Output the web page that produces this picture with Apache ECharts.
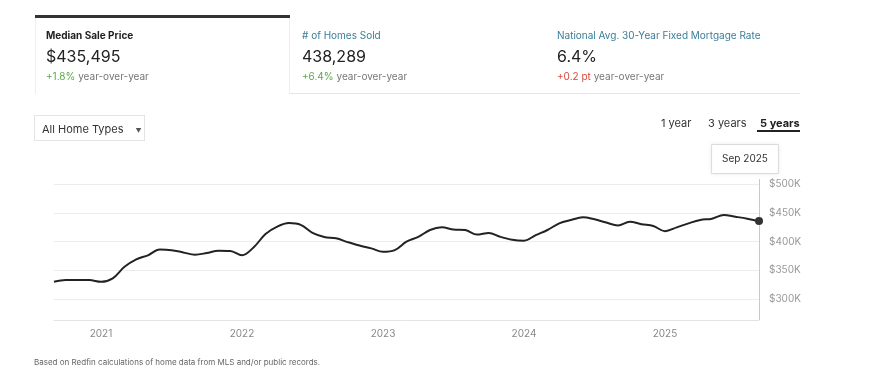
<!DOCTYPE html>
<html>
<head>
<meta charset="utf-8">
<script src="https://cdn.jsdelivr.net/npm/echarts@6/dist/echarts.min.js"></script>
<style>
  body { margin: 0; width: 870px; height: 369px; background: #fff; font-family: Inter, "Noto Sans", sans-serif; overflow: hidden; position: relative; }
  #chart { position: absolute; left: 0; top: 0; width: 870px; height: 369px; }
  .abs { position: absolute; }
  .tabbar { left: 35px; top: 15px; width: 255px; height: 3px; background: #333; }
  .tab1 { left: 35px; top: 18px; width: 253px; height: 76px; border-left: 1px solid #eee; border-right: 1px solid #eee; }
  .tabline { left: 290px; top: 93px; width: 510px; height: 1px; background: #e6e6e6; }
  .stat .t { font-size: 10px; line-height: 12px; }
  .stat .v { font-size: 16px; line-height: 20px; color: #222; margin-top: 5px; }
  .stat .c { font-size: 10px; line-height: 12px; color: #777; margin-top: 4px; }
  .dd { left: 34px; top: 115px; width: 111px; height: 26px; border: 1px solid #e3e3e3; font-size: 11px; color: #333; line-height: 26px; box-sizing: border-box; padding-left: 7px; }
  .rng { top: 116px; font-size: 11px; color: #333; }
  .foot { left: 34px; top: 357px; font-size: 8px; color: #666; }
</style>
</head>
<body>
<div id="chart"></div>
<div class="abs tabbar"></div>
<div class="abs tab1"></div>
<div class="abs tabline"></div>
<div class="abs stat" style="left:46px;top:29px">
  <div class="t" style="font-weight:700;color:#222">Median Sale Price</div>
  <div class="v">$435,495</div>
  <div class="c"><span style="color:#5aa84a">+1.8%</span> year-over-year</div>
</div>
<div class="abs stat" style="left:302px;top:29px">
  <div class="t" style="color:#3a7d98"># of Homes Sold</div>
  <div class="v">438,289</div>
  <div class="c"><span style="color:#5aa84a">+6.4%</span> year-over-year</div>
</div>
<div class="abs stat" style="left:557px;top:29px">
  <div class="t" style="color:#3a7d98">National Avg. 30-Year Fixed Mortgage Rate</div>
  <div class="v">6.4%</div>
  <div class="c"><span style="color:#d9483b">+0.2 pt</span> year-over-year</div>
</div>
<div class="abs dd">All Home Types <span style="font-size:6px;margin-left:9px;color:#555">&#9660;</span></div>
<div class="abs rng" style="left:661px">1 year</div>
<div class="abs rng" style="left:708px">3 years</div>
<div class="abs rng" style="left:760px;font-weight:700;color:#222">5 years</div>
<div class="abs" style="left:757px;top:130px;width:43px;height:2px;background:#222"></div>
<div class="abs foot">Based on Redfin calculations of home data from MLS and/or public records.</div>

<script>
  // monthly, Sep 2020 .. Sep 2025
  const months = [
    'Sep 2020', 'Oct 2020', 'Nov 2020', 'Dec 2020',
    'Jan 2021', 'Feb 2021', 'Mar 2021', 'Apr 2021', 'May 2021', 'Jun 2021', 'Jul 2021', 'Aug 2021', 'Sep 2021', 'Oct 2021', 'Nov 2021', 'Dec 2021',
    'Jan 2022', 'Feb 2022', 'Mar 2022', 'Apr 2022', 'May 2022', 'Jun 2022', 'Jul 2022', 'Aug 2022', 'Sep 2022', 'Oct 2022', 'Nov 2022', 'Dec 2022',
    'Jan 2023', 'Feb 2023', 'Mar 2023', 'Apr 2023', 'May 2023', 'Jun 2023', 'Jul 2023', 'Aug 2023', 'Sep 2023', 'Oct 2023', 'Nov 2023', 'Dec 2023',
    'Jan 2024', 'Feb 2024', 'Mar 2024', 'Apr 2024', 'May 2024', 'Jun 2024', 'Jul 2024', 'Aug 2024', 'Sep 2024', 'Oct 2024', 'Nov 2024', 'Dec 2024',
    'Jan 2025', 'Feb 2025', 'Mar 2025', 'Apr 2025', 'May 2025', 'Jun 2025', 'Jul 2025', 'Aug 2025', 'Sep 2025'
  ]
  // median sale price, $K
  const medianPrice = [
    330, 333, 333, 333,
    330, 336, 356, 369, 376, 386, 385, 381, 377, 380, 384, 383.5,
    376, 390, 413, 426, 432, 429, 415, 408, 405.5, 399, 393, 388,
    382, 385, 399.7, 408, 420, 424.6, 421, 420, 412, 415, 408, 403,
    401.5, 411, 420, 431.6, 437.4, 442, 438.6, 433, 428, 434.5, 430, 427,
    418, 424.6, 431.6, 437.4, 439.7, 446, 443, 439.7, 435.5
  ]
  const yTicks = [300, 350, 400, 450, 500]
  const lastMonth = months[months.length - 1]
  const lastValue = medianPrice[medianPrice.length - 1]

  const chart = echarts.init(document.getElementById('chart'))
  chart.setOption({
    animation: false,
    grid: { left: 54, right: 111, top: 179, bottom: 49 },
    xAxis: {
      type: 'category',
      boundaryGap: false,
      data: months,
      axisLine: { lineStyle: { color: '#e4e4e4' } },
      axisTick: { show: false },
      axisLabel: {
        color: '#888',
        fontSize: 10,
        fontFamily: 'Inter',
        margin: 9,
        interval: (i, v) => v.indexOf('Jan') === 0,
        formatter: v => v.slice(4)
      }
    },
    yAxis: {
      type: 'value',
      position: 'right',
      min: 263.5,
      max: 508.7,
      axisLine: { show: false },
      axisTick: { show: false, customValues: yTicks },
      splitLine: { lineStyle: { color: '#ececec' }, customValues: yTicks },
      axisLabel: {
        customValues: yTicks,
        color: '#999',
        fontSize: 10,
        fontFamily: 'Inter',
        margin: 10,
        formatter: v => '$' + v + 'K'
      }
    },
    series: [{
      type: 'line',
      data: medianPrice,
      smooth: 0.35,
      showSymbol: false,
      lineStyle: { color: '#222', width: 2 },
      markPoint: {
        symbol: 'circle',
        symbolSize: 8,
        itemStyle: { color: '#333' },
        label: { show: false },
        data: [{ coord: [lastMonth, lastValue] }]
      },
      markLine: {
        silent: true,
        symbol: ['none', 'none'],
        lineStyle: { color: '#a6d6e0', width: 1, type: 'solid' },
        label: {
          position: 'end',
          formatter: 'Sep 2025',
          distance: 6,
          offset: [-14, 0],
          color: '#333',
          fontSize: 10,
          fontFamily: 'Inter',
          backgroundColor: '#fff',
          borderColor: '#e2e2e2',
          borderWidth: 1,
          padding: [9, 10],
          shadowColor: 'rgba(0,0,0,0.08)',
          shadowBlur: 4
        },
        data: [{ xAxis: lastMonth }]
      }
    }]
  })
</script>
</body>
</html>
